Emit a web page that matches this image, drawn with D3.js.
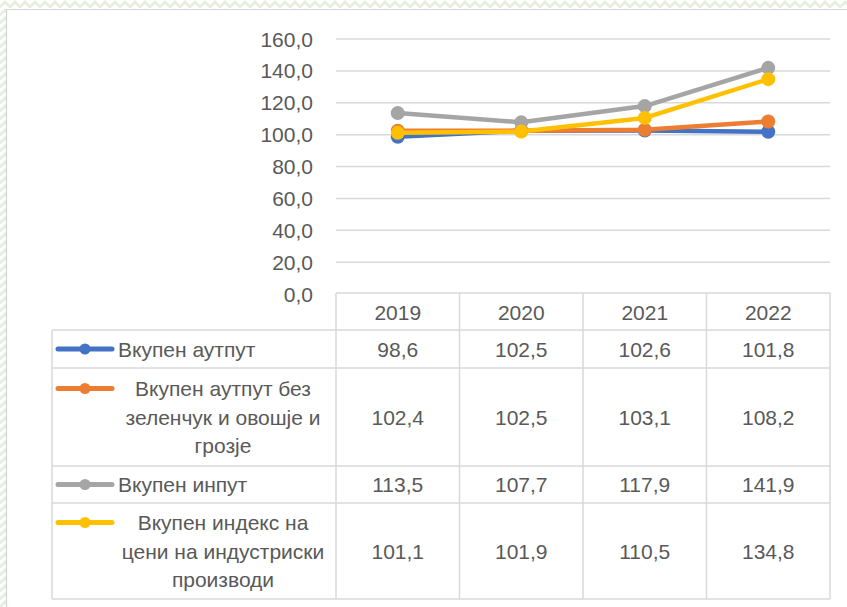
<!doctype html>
<html lang="mk">
<head>
    <meta charset="UTF-8">
    <title>Индекси</title>
    <style>
        html, body { margin: 0; padding: 0; background: #fff; }
        svg { display: block; }
        text { font-family: "Liberation Sans", Arial, sans-serif; font-size: 21px; fill: #595959; }
    </style>
</head>
<body>
    <svg width="847" height="607"></svg>
    <script src="https://cdn.jsdelivr.net/npm/d3@7"></script>
    <script>
        const years = ["2019", "2020", "2021", "2022"];
        const seriesNames = [
            ["Вкупен аутпут"],
            ["Вкупен аутпут без", "зеленчук и овошје и", "грозје"],
            ["Вкупен инпут"],
            ["Вкупен индекс на", "цени на индустриски", "производи"]
        ];
        const totalOutput = [98.6, 102.5, 102.6, 101.8];
        const outputNoVeg = [102.4, 102.5, 103.1, 108.2];
        const totalInput = [113.5, 107.7, 117.9, 141.9];
        const industryPrices = [101.1, 101.9, 110.5, 134.8];
        const yTicks = [0, 20, 40, 60, 80, 100, 120, 140, 160];
        const colors = ["#4472C4", "#ED7D31", "#A5A5A5", "#FFC000"];

        const series = [totalOutput, outputNoVeg, totalInput, industryPrices];
        const fmt = v => d3.format(".1f")(v).replace(".", ",");

        const svg = d3.select("svg");

        // patterned backdrop
        const defs = svg.append("defs");
        const pat = defs.append("pattern")
            .attr("id", "zig")
            .attr("width", 10).attr("height", 8)
            .attr("patternUnits", "userSpaceOnUse");
        pat.append("path")
            .attr("d", "M0,6 L5,1 L10,6 M0,8 L5,3 L10,8")
            .attr("fill", "none")
            .attr("stroke", "#e1ecd6")
            .attr("stroke-width", 1.2);
        svg.append("rect").attr("width", 847).attr("height", 607).attr("fill", "url(#zig)");
        svg.append("rect").attr("x", 6).attr("y", 9).attr("width", 841).attr("height", 598).attr("fill", "#fff");
        svg.append("path").attr("d", "M6.5,607 V9.5 H847")
            .attr("fill", "none").attr("stroke", "#d4d4d4").attr("stroke-width", 1.2);

        const x = d3.scaleBand().domain(years).range([336, 830]);
        const y = d3.scaleLinear().domain([0, 160]).range([294, 39]);

        // gridlines + y labels
        const yAxis = svg.append("g");
        yAxis.selectAll("line").data(yTicks.filter(t => t > 0)).join("line")
            .attr("x1", 336).attr("x2", 830)
            .attr("y1", d => y(d)).attr("y2", d => y(d))
            .attr("stroke", "#d9d9d9").attr("stroke-width", 1.5);
        yAxis.selectAll("text").data(yTicks).join("text")
            .attr("x", 313).attr("y", d => y(d))
            .attr("text-anchor", "end").attr("dominant-baseline", "central")
            .text(d => fmt(d));

        // data table
        const rowEdges = [293, 330, 368, 466, 503, 599];
        const colEdges = [336].concat(years.map(yr => x(yr) + x.bandwidth()));
        const tbl = svg.append("g").attr("stroke", "#d9d9d9").attr("stroke-width", 1.5);
        tbl.append("line").attr("x1", 336).attr("x2", 830).attr("y1", 293).attr("y2", 293);
        rowEdges.slice(1).forEach(r => {
            tbl.append("line").attr("x1", 52).attr("x2", 830).attr("y1", r).attr("y2", r);
        });
        tbl.append("line").attr("x1", 52).attr("x2", 52).attr("y1", 330).attr("y2", 599);
        colEdges.forEach(c => {
            tbl.append("line").attr("x1", c).attr("x2", c).attr("y1", 293).attr("y2", 599);
        });

        svg.append("g").selectAll("text").data(years).join("text")
            .attr("x", d => x(d) + x.bandwidth() / 2).attr("y", 312)
            .attr("text-anchor", "middle").attr("dominant-baseline", "central")
            .text(d => d);

        series.forEach((vals, i) => {
            const top = rowEdges[i + 1], bot = rowEdges[i + 2];
            const mid = (top + bot) / 2;
            const names = seriesNames[i];
            const g = svg.append("g");
            g.selectAll("text.v").data(vals).join("text").attr("class", "v")
                .attr("x", (d, j) => x(years[j]) + x.bandwidth() / 2).attr("y", mid)
                .attr("text-anchor", "middle").attr("dominant-baseline", "central")
                .text(d => fmt(d));
            const lh = 28.5;
            const firstY = mid - (names.length - 1) * lh / 2;
            g.selectAll("text.n").data(names).join("text").attr("class", "n")
                .attr("x", names.length > 1 ? 223 : 118)
                .attr("y", (d, k) => firstY + k * lh)
                .attr("text-anchor", names.length > 1 ? "middle" : "start")
                .attr("dominant-baseline", "central")
                .text(d => d);
            g.append("line").attr("x1", 58).attr("x2", 112).attr("y1", firstY).attr("y2", firstY)
                .attr("stroke", colors[i]).attr("stroke-width", 5).attr("stroke-linecap", "round");
            g.append("circle").attr("cx", 85).attr("cy", firstY).attr("r", 5.5).attr("fill", colors[i]);
        });

        // lines
        const line = d3.line()
            .x((d, j) => x(years[j]) + x.bandwidth() / 2)
            .y(d => y(d));
        series.forEach((vals, i) => {
            const g = svg.append("g");
            g.append("path").datum(vals).attr("d", line)
                .attr("fill", "none").attr("stroke", colors[i])
                .attr("stroke-width", 4.5).attr("stroke-linejoin", "round").attr("stroke-linecap", "round");
            g.selectAll("circle").data(vals).join("circle")
                .attr("cx", (d, j) => x(years[j]) + x.bandwidth() / 2)
                .attr("cy", d => y(d)).attr("r", 7)
                .attr("fill", colors[i]);
        });
    </script>
</body>
</html>
